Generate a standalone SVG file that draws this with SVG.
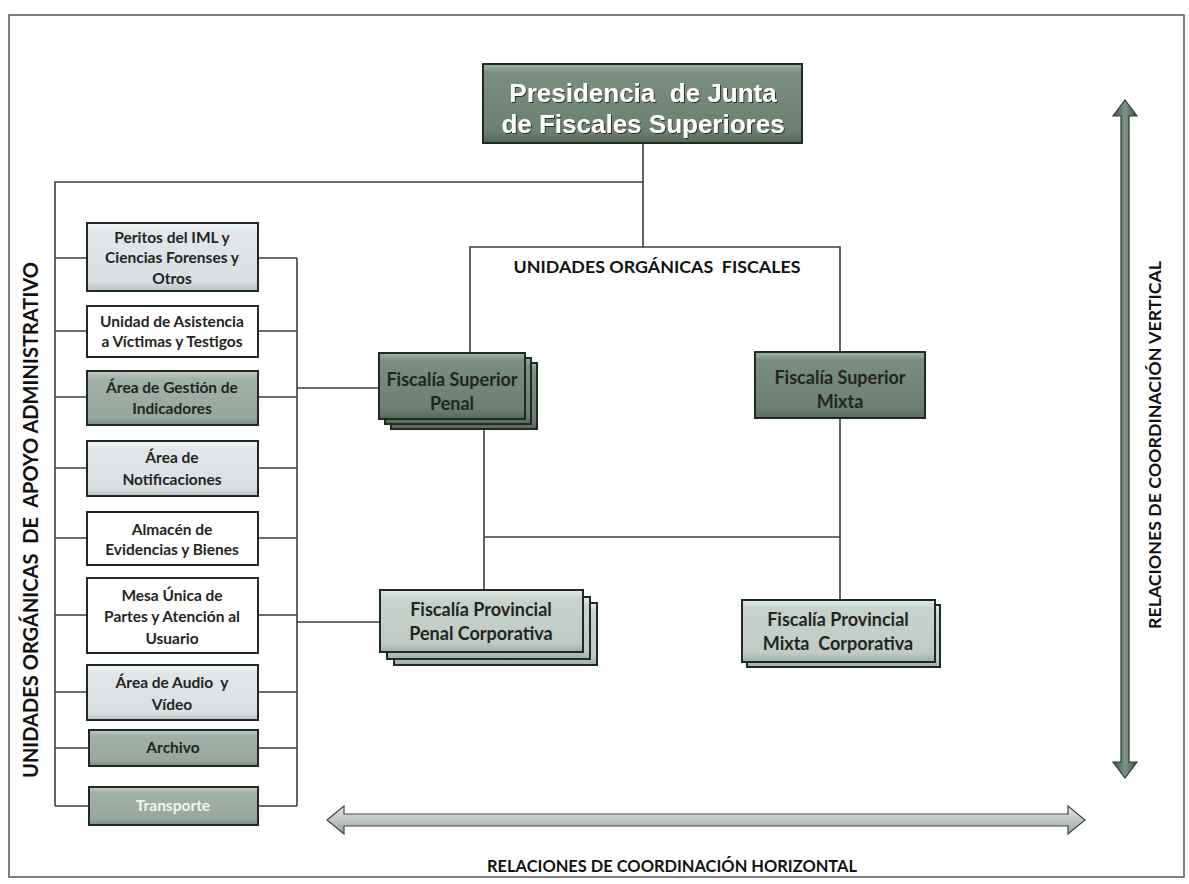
<svg xmlns="http://www.w3.org/2000/svg" width="1189" height="884" viewBox="0 0 1189 884">
<defs>
<linearGradient id="gDark" x1="0" y1="0" x2="0" y2="1">
<stop offset="0" stop-color="#a3b2a8"/><stop offset="0.12" stop-color="#7a8e81"/><stop offset="0.85" stop-color="#6b7f72"/><stop offset="1" stop-color="#56685c"/>
</linearGradient>
<linearGradient id="gMid" x1="0" y1="0" x2="0" y2="1">
<stop offset="0" stop-color="#c4cfc8"/><stop offset="0.15" stop-color="#a2b1a7"/><stop offset="0.85" stop-color="#97a79d"/><stop offset="1" stop-color="#7d8d83"/>
</linearGradient>
<linearGradient id="gLight" x1="0" y1="0" x2="0" y2="1">
<stop offset="0" stop-color="#f4f6f7"/><stop offset="0.15" stop-color="#e1e6e9"/><stop offset="0.85" stop-color="#d9dfe2"/><stop offset="1" stop-color="#b9c2c1"/>
</linearGradient>
<linearGradient id="gProv" x1="0" y1="0" x2="0" y2="1">
<stop offset="0" stop-color="#e6ebe8"/><stop offset="0.15" stop-color="#c8d2cc"/><stop offset="0.85" stop-color="#c0cbc5"/><stop offset="1" stop-color="#9fada5"/>
</linearGradient>
<linearGradient id="gVArrow" x1="0" y1="0" x2="1" y2="0">
<stop offset="0" stop-color="#3f5448"/><stop offset="0.5" stop-color="#7c9486"/><stop offset="1" stop-color="#3f5448"/>
</linearGradient>
<linearGradient id="gHArrow" x1="0" y1="0" x2="0" y2="1">
<stop offset="0" stop-color="#e3e7e5"/><stop offset="0.5" stop-color="#bfc8c3"/><stop offset="1" stop-color="#98a49d"/>
</linearGradient>
<filter id="tshadow" x="-10%" y="-20%" width="120%" height="140%">
<feDropShadow dx="1" dy="1" stdDeviation="0.6" flood-color="#1a241e" flood-opacity="0.9"/>
</filter>
</defs>
<style>
text{white-space:pre}
.box{stroke:#1f2a24;stroke-width:2}
.line{fill:none;stroke:#3a3f3c;stroke-width:1.6}
.t{font-family:Lato,"Liberation Sans",sans-serif;font-weight:bold;fill:#1f2622;text-anchor:middle}
.s{font-size:15.5px}
.m{font-size:18px}
.lab{font-family:Lato,"Liberation Sans",sans-serif;font-weight:bold;fill:#111;text-anchor:middle}
.pres{font-family:"Liberation Sans",Arial,sans-serif;font-weight:bold;font-size:26px;fill:#ffffff;text-anchor:middle}
</style>

<rect x="9" y="15" width="1175" height="862" fill="none" stroke="#555" stroke-width="1.5"/>

<g id="connectors">
<path class="line" d="M643,143 V247"/>
<path class="line" d="M643,182 H55 V806"/>
<path class="line" d="M470,352 V247 H840 V352"/>
<path class="line" d="M55,258 H87 M55,331 H87 M55,397 H87 M55,468 H87 M55,538 H87 M55,615 H87 M55,692 H87 M55,748 H89 M55,806 H89"/>
<path class="line" d="M258,258 H297 M258,331 H297 M258,397 H297 M258,468 H297 M258,538 H297 M258,615 H297 M258,692 H297 M258,748 H297 M258,806 H297"/>
<path class="line" d="M297,258 V806"/>
<path class="line" d="M297,388 H379"/>
<path class="line" d="M297,622 H380"/>
<path class="line" d="M484,429 V590"/>
<path class="line" d="M484,537 H840"/>
<path class="line" d="M840,418 V600"/>
</g>

<g id="presidencia">
<rect class="box" x="483" y="64" width="319" height="79" fill="url(#gDark)"/>
<text class="pres" x="643" y="102" filter="url(#tshadow)">Presidencia  de Junta</text>
<text class="pres" x="643" y="133" filter="url(#tshadow)">de Fiscales Superiores</text>
</g>

<g id="unidades-fiscales-label">
<text class="lab" x="657" y="273" font-size="17" textLength="287" lengthAdjust="spacingAndGlyphs">UNIDADES ORGÁNICAS  FISCALES</text>
</g>

<g id="peritos">
<rect class="box" x="87" y="223" width="171" height="68" fill="url(#gLight)"/>
<text class="t s" x="172" y="243">Peritos del IML y</text>
<text class="t s" x="172" y="263">Ciencias Forenses y</text>
<text class="t s" x="172" y="284">Otros</text>
</g>
<g id="asistencia">
<rect class="box" x="87" y="306" width="171" height="51" fill="#ffffff"/>
<text class="t s" x="172" y="327">Unidad de Asistencia</text>
<text class="t s" x="172" y="347">a Víctimas y Testigos</text>
</g>
<g id="gestion">
<rect class="box" x="87" y="371" width="171" height="54" fill="url(#gMid)"/>
<text class="t s" x="172" y="393">Área de Gestión de</text>
<text class="t s" x="172" y="414">Indicadores</text>
</g>
<g id="notificaciones">
<rect class="box" x="87" y="441" width="171" height="55" fill="url(#gLight)"/>
<text class="t s" x="172" y="463">Área de</text>
<text class="t s" x="172" y="485">Notificaciones</text>
</g>
<g id="almacen">
<rect class="box" x="87" y="512" width="171" height="53" fill="#ffffff"/>
<text class="t s" x="172" y="535">Almacén de</text>
<text class="t s" x="172" y="555">Evidencias y Bienes</text>
</g>
<g id="mesa">
<rect class="box" x="87" y="578" width="171" height="75" fill="#ffffff"/>
<text class="t s" x="172" y="601">Mesa Única de</text>
<text class="t s" x="172" y="622">Partes y Atención al</text>
<text class="t s" x="172" y="644">Usuario</text>
</g>
<g id="audio">
<rect class="box" x="87" y="665" width="171" height="55" fill="url(#gLight)"/>
<text class="t s" x="172" y="688">Área de Audio  y</text>
<text class="t s" x="172" y="710">Vídeo</text>
</g>
<g id="archivo">
<rect class="box" x="89" y="730" width="169" height="36" fill="url(#gMid)"/>
<text class="t s" x="173" y="753">Archivo</text>
</g>
<g id="transporte">
<rect class="box" x="89" y="787" width="169" height="38" fill="url(#gMid)"/>
<text class="t s" x="173" y="811" style="fill:#f2f4f3">Transporte</text>
</g>

<g id="fiscalia-superior-penal">
<rect class="box" x="391" y="363" width="146" height="66" fill="url(#gDark)"/>
<rect class="box" x="385" y="358" width="146" height="66" fill="url(#gDark)"/>
<rect class="box" x="379" y="353" width="146" height="66" fill="url(#gDark)"/>
<text class="t m" x="452" y="386">Fiscalía Superior</text>
<text class="t m" x="452" y="410">Penal</text>
</g>

<g id="fiscalia-superior-mixta">
<rect class="box" x="755" y="352" width="170" height="66" fill="url(#gDark)"/>
<text class="t m" x="840" y="384">Fiscalía Superior</text>
<text class="t m" x="840" y="408">Mixta</text>
</g>

<g id="fiscalia-provincial-penal">
<rect class="box" x="394" y="603" width="203" height="62" fill="url(#gProv)"/>
<rect class="box" x="387" y="597" width="203" height="62" fill="url(#gProv)"/>
<rect class="box" x="380" y="590" width="203" height="62" fill="url(#gProv)"/>
<text class="t m" x="481" y="616">Fiscalía Provincial</text>
<text class="t m" x="481" y="640">Penal Corporativa</text>
</g>

<g id="fiscalia-provincial-mixta">
<rect class="box" x="747" y="605" width="193" height="62" fill="url(#gProv)"/>
<rect class="box" x="742" y="600" width="193" height="62" fill="url(#gProv)"/>
<text class="t m" x="838" y="626">Fiscalía Provincial</text>
<text class="t m" x="838" y="650">Mixta  Corporativa</text>
</g>

<g id="vertical-arrow">
<path d="M1125,100 L1137,116 L1129,116 L1129,762 L1137,762 L1125,778 L1113,762 L1121,762 L1121,116 L1113,116 Z" fill="url(#gVArrow)" stroke="#2a3a31" stroke-width="1.2"/>
<text class="lab" transform="translate(1161,445) rotate(-90)" font-size="17" textLength="368" lengthAdjust="spacingAndGlyphs">RELACIONES DE COORDINACIÓN VERTICAL</text>
</g>

<g id="horizontal-arrow">
<path d="M327,820 L344,806 L344,814 L1068,814 L1068,806 L1085,820 L1068,834 L1068,826 L344,826 L344,834 Z" fill="url(#gHArrow)" stroke="#444" stroke-width="1.2"/>
<text class="lab" x="672" y="872" font-size="17" textLength="370" lengthAdjust="spacingAndGlyphs">RELACIONES DE COORDINACIÓN HORIZONTAL</text>
</g>

<g id="apoyo-label">
<text class="lab" transform="translate(38,520) rotate(-90)" font-size="20" textLength="516" lengthAdjust="spacingAndGlyphs">UNIDADES ORGÁNICAS  DE  APOYO ADMINISTRATIVO</text>
</g>
</svg>
